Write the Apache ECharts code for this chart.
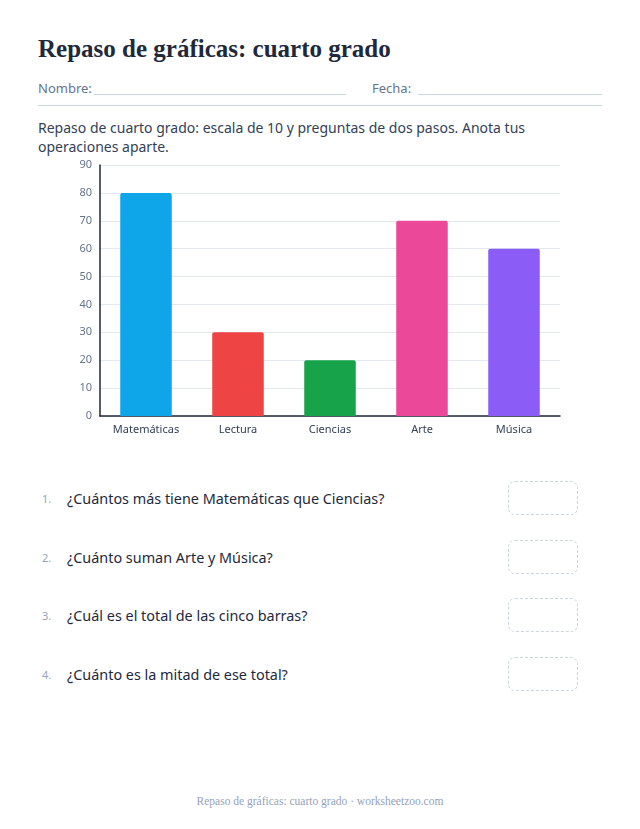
<!DOCTYPE html>
<html><head><meta charset="utf-8">
<script src="https://cdn.jsdelivr.net/npm/echarts@6/dist/echarts.min.js"></script>
<style>
body{margin:0;width:640px;height:829px;background:#fff;position:relative;font-family:"Noto Sans",Lato,sans-serif;color:#1e293b;overflow:hidden}
.a{position:absolute}
h1{position:absolute;left:38px;top:35px;margin:0;font-family:"Liberation Serif",serif;font-weight:bold;font-size:25px;color:#1e293b}
.lbl{font-size:13px;color:#64748b}
.line{border-bottom:1px solid #cbd5e1;height:0}
.q{font-size:14.4px;color:#1e293b}
.n{font-size:11px;color:#94a3b8}
.box{width:68px;height:32px;border:1.5px dashed #cbd5e1;border-radius:7px}
</style></head><body>
<h1>Repaso de gráficas: cuarto grado</h1>
<div class="a lbl" style="left:38px;top:79px">Nombre:</div>
<div class="a line" style="left:94px;top:94px;width:252px"></div>
<div class="a lbl" style="left:372px;top:79px">Fecha:</div>
<div class="a line" style="left:418px;top:94px;width:184px"></div>
<div class="a line" style="left:38px;top:105px;width:564px"></div>
<div class="a" style="left:38px;top:118px;width:520px;font-size:14px;line-height:19px;color:#334155">Repaso de cuarto grado: escala de 10 y preguntas de dos pasos. Anota tus operaciones aparte.</div>
<div id="c" class="a" style="left:0;top:150px;width:640px;height:300px"></div>
<div id="qs"></div>
<div class="a" style="left:0;top:795px;width:640px;text-align:center;font-family:'Liberation Serif',serif;font-size:11.5px;color:#94a3b8">Repaso de gráficas: cuarto grado · worksheetzoo.com</div>
<script>
const categories=["Matemáticas","Lectura","Ciencias","Arte","Música"];
const values=[80,30,20,70,60];
const colors=["#0ea5e9","#ef4444","#16a34a","#ec4899","#8b5cf6"];
const yTicks={min:0,max:90,interval:10};
const questions=["¿Cuántos más tiene Matemáticas que Ciencias?","¿Cuánto suman Arte y Música?","¿Cuál es el total de las cinco barras?","¿Cuánto es la mitad de ese total?"];
let h="";
questions.forEach((q,i)=>{const y=489+i*58.5;
h+=`<div class="a n" style="left:42px;top:${y+2}px">${i+1}.</div><div class="a q" style="left:67px;top:${y}px">${q}</div><div class="a box" style="left:508px;top:${y-8}px"></div>`;});
document.getElementById('qs').innerHTML=h;
const ch=echarts.init(document.getElementById('c'));
ch.setOption({animation:false,
grid:{left:100,right:80,top:15,bottom:34},
xAxis:{type:'category',data:categories,axisLine:{lineStyle:{color:'#1e293b',width:1.5}},axisTick:{show:false},axisLabel:{color:'#334155',fontSize:11,fontFamily:'Noto Sans'}},
yAxis:{type:'value',min:yTicks.min,max:yTicks.max,interval:yTicks.interval,axisLine:{show:true,lineStyle:{color:'#1e293b',width:1.5}},splitLine:{lineStyle:{color:'#e2e8f0'}},axisLabel:{color:'#64748b',fontSize:11,fontFamily:'Noto Sans'}},
series:[{type:'bar',barWidth:'56%',data:values.map((v,i)=>({value:v,itemStyle:{color:colors[i],borderRadius:[2,2,0,0]}}))}]
});
</script></body></html>
